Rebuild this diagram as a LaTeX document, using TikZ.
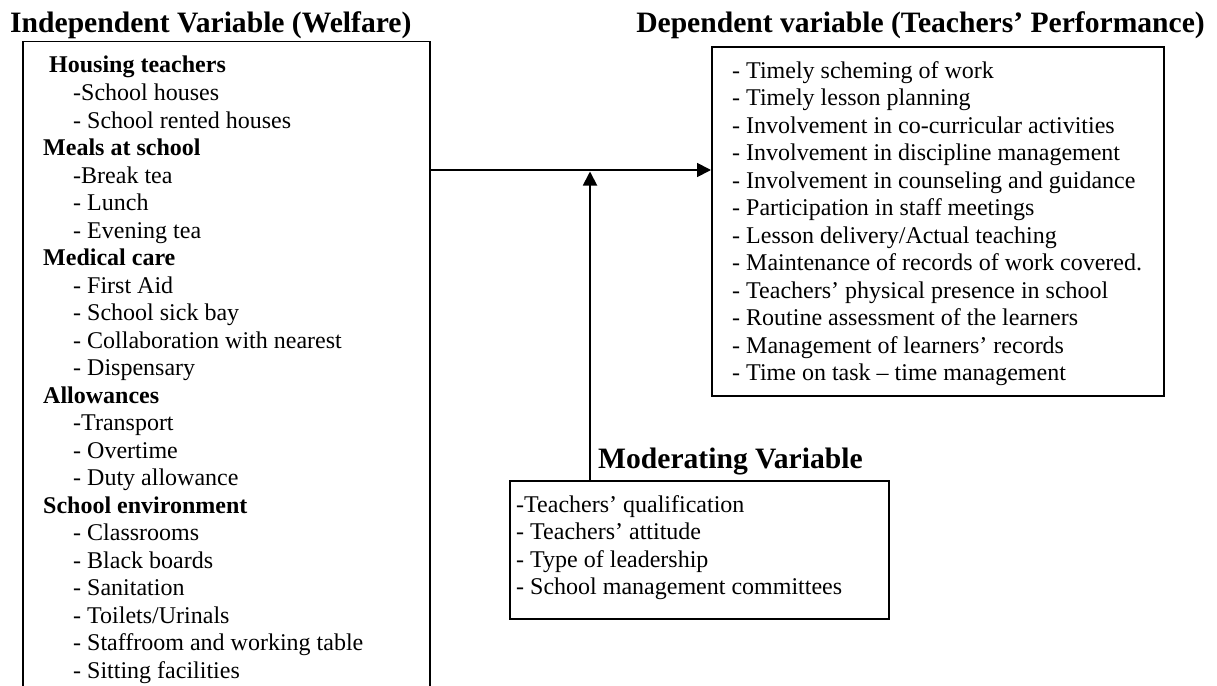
\documentclass[tikz,border=0pt]{standalone}
\usepackage{fontspec}
\setmainfont{Liberation Serif}
\usetikzlibrary{arrows.meta}
\tikzset{
  boxrect/.style={draw=black, line width=1.8pt, inner sep=0pt, anchor=north west},
  txt/.style={anchor=base west, inner sep=0pt, font=\fontsize{24}{27.5}\selectfont},
  ttl/.style={anchor=base west, inner sep=0pt, font=\fontsize{29.6}{33}\selectfont\bfseries},
  arr/.style={line width=1.8pt, -{Triangle[length=14pt,width=14pt]}}
}
\begin{document}
\begin{tikzpicture}[x=1pt,y=-1pt]
\useasboundingbox (0,0) rectangle (1217,685);
\clip (0,0) rectangle (1217,685);
% titles
\node[ttl] (tindep) at (10,33) {Independent Variable (Welfare)};
\node[ttl, anchor=base east] (tdep) at (1205,33) {Dependent variable (Teachers’ Performance)};
\node[ttl] (tmod) at (598,468) {Moderating Variable};
% boxes
\node[boxrect, minimum width=407pt, minimum height=700pt] (indep) at (22,40.7) {};
\node[boxrect, minimum width=452pt, minimum height=349pt] (dep) at (711,46) {};
\node[boxrect, minimum width=379pt, minimum height=138pt] (mod) at (509,480) {};
% independent list
\node[txt] (i0) at (49,73) {\textbf{Housing teachers}};
\node[txt] (i1) at (73,100.5) {-School houses};
\node[txt] (i2) at (73,128) {- School rented houses};
\node[txt] (i3) at (43,155.5) {\textbf{Meals at school}};
\node[txt] (i4) at (73,183) {-Break tea};
\node[txt] (i5) at (73,210.5) {- Lunch};
\node[txt] (i6) at (73,238) {- Evening tea};
\node[txt] (i7) at (43,265.5) {\textbf{Medical care}};
\node[txt] (i8) at (73,293) {- First Aid};
\node[txt] (i9) at (73,320.5) {- School sick bay};
\node[txt] (i10) at (73,348) {- Collaboration with nearest};
\node[txt] (i11) at (73,375.5) {- Dispensary};
\node[txt] (i12) at (43,403) {\textbf{Allowances}};
\node[txt] (i13) at (73,430.5) {-Transport};
\node[txt] (i14) at (73,458) {- Overtime};
\node[txt] (i15) at (73,485.5) {- Duty allowance};
\node[txt] (i16) at (43,513) {\textbf{School environment}};
\node[txt] (i17) at (73,540.5) {- Classrooms};
\node[txt] (i18) at (73,568) {- Black boards};
\node[txt] (i19) at (73,595.5) {- Sanitation};
\node[txt] (i20) at (73,623) {- Toilets/Urinals};
\node[txt] (i21) at (73,650.5) {- Staffroom and working table};
\node[txt] (i22) at (73,678) {- Sitting facilities};
% dependent list
\node[txt] (d0) at (732,78) {- Timely scheming of work};
\node[txt] (d1) at (732,105.5) {- Timely lesson planning};
\node[txt] (d2) at (732,133) {- Involvement in co-curricular activities};
\node[txt] (d3) at (732,160.5) {- Involvement in discipline management};
\node[txt] (d4) at (732,188) {- Involvement in counseling and guidance};
\node[txt] (d5) at (732,215.5) {- Participation in staff meetings};
\node[txt] (d6) at (732,243) {- Lesson delivery/Actual teaching};
\node[txt] (d7) at (732,270.5) {- Maintenance of records of work covered.};
\node[txt] (d8) at (732,298) {- Teachers’ physical presence in school};
\node[txt] (d9) at (732,325.5) {- Routine assessment of the learners};
\node[txt] (d10) at (732,353) {- Management of learners’ records};
\node[txt] (d11) at (732,380.5) {- Time on task – time management};
% moderating list
\node[txt] (m0) at (516,512) {-Teachers’ qualification};
\node[txt] (m1) at (516,539.5) {- Teachers’ attitude};
\node[txt] (m2) at (516,567) {- Type of leadership};
\node[txt] (m3) at (516,594.5) {- School management committees};
% connectors
\coordinate (tip) at (590,171.5);
\draw[arr] (indep.east |- 0,170) -- (dep.west |- 0,170);
\draw[arr] (mod.north -| tip) -- (tip);
\end{tikzpicture}
\end{document}
